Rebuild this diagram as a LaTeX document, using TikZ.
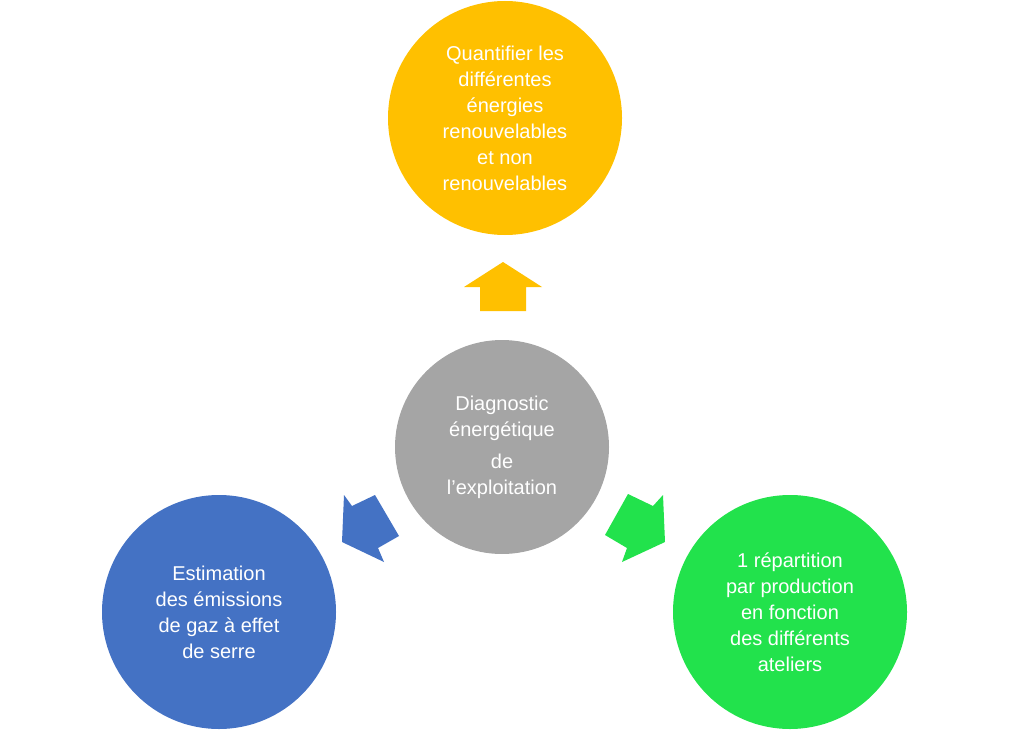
\documentclass[tikz,border=0pt]{standalone}
\usepackage{fontspec}
\setmainfont{Liberation Sans}
\definecolor{cy}{HTML}{FFC000}
\definecolor{cg}{HTML}{A5A5A5}
\definecolor{cb}{HTML}{4472C4}
\definecolor{cgr}{HTML}{22E24C}
\begin{document}
\begin{tikzpicture}[x=1pt,y=-1pt,
  circ/.style={circle,minimum size=#1,inner sep=0pt,text=white,align=center,
    font=\fontsize{20}{26}\selectfont},
  arr/.style={fill=#1,draw=none}]
\useasboundingbox (0,0) rectangle (1009,733);
\node[circ=234pt,fill=cy] (top) at (505,118) {Quantifier les\\différentes\\énergies\\renouvelables\\et non\\renouvelables};
\node[circ=214pt,fill=cg] (mid) at (502,447) {Diagnostic\\énergétique\\[6pt]de\\l’exploitation};
\node[circ=234pt,fill=cb] (bl) at (219,612) {Estimation\\des émissions\\de gaz à effet\\de serre};
\node[circ=234pt,fill=cgr] (br) at (790,612) {1 répartition\\par production\\en fonction\\des différents\\ateliers};
\fill[cy] (464,287)--(503,262)--(542,287)--(526,287)--(526,311)--(480,311)--(480,287)--cycle;
\fill[cb] (344,495)--(352,506)--(375,495)--(399,536)--(378,548)--(384,562)--(342,542)--cycle;
\fill[cgr] (663,495)--(653,506)--(628,494)--(605,535)--(627,548)--(622,562)--(665,542)--cycle;
\end{tikzpicture}
\end{document}
